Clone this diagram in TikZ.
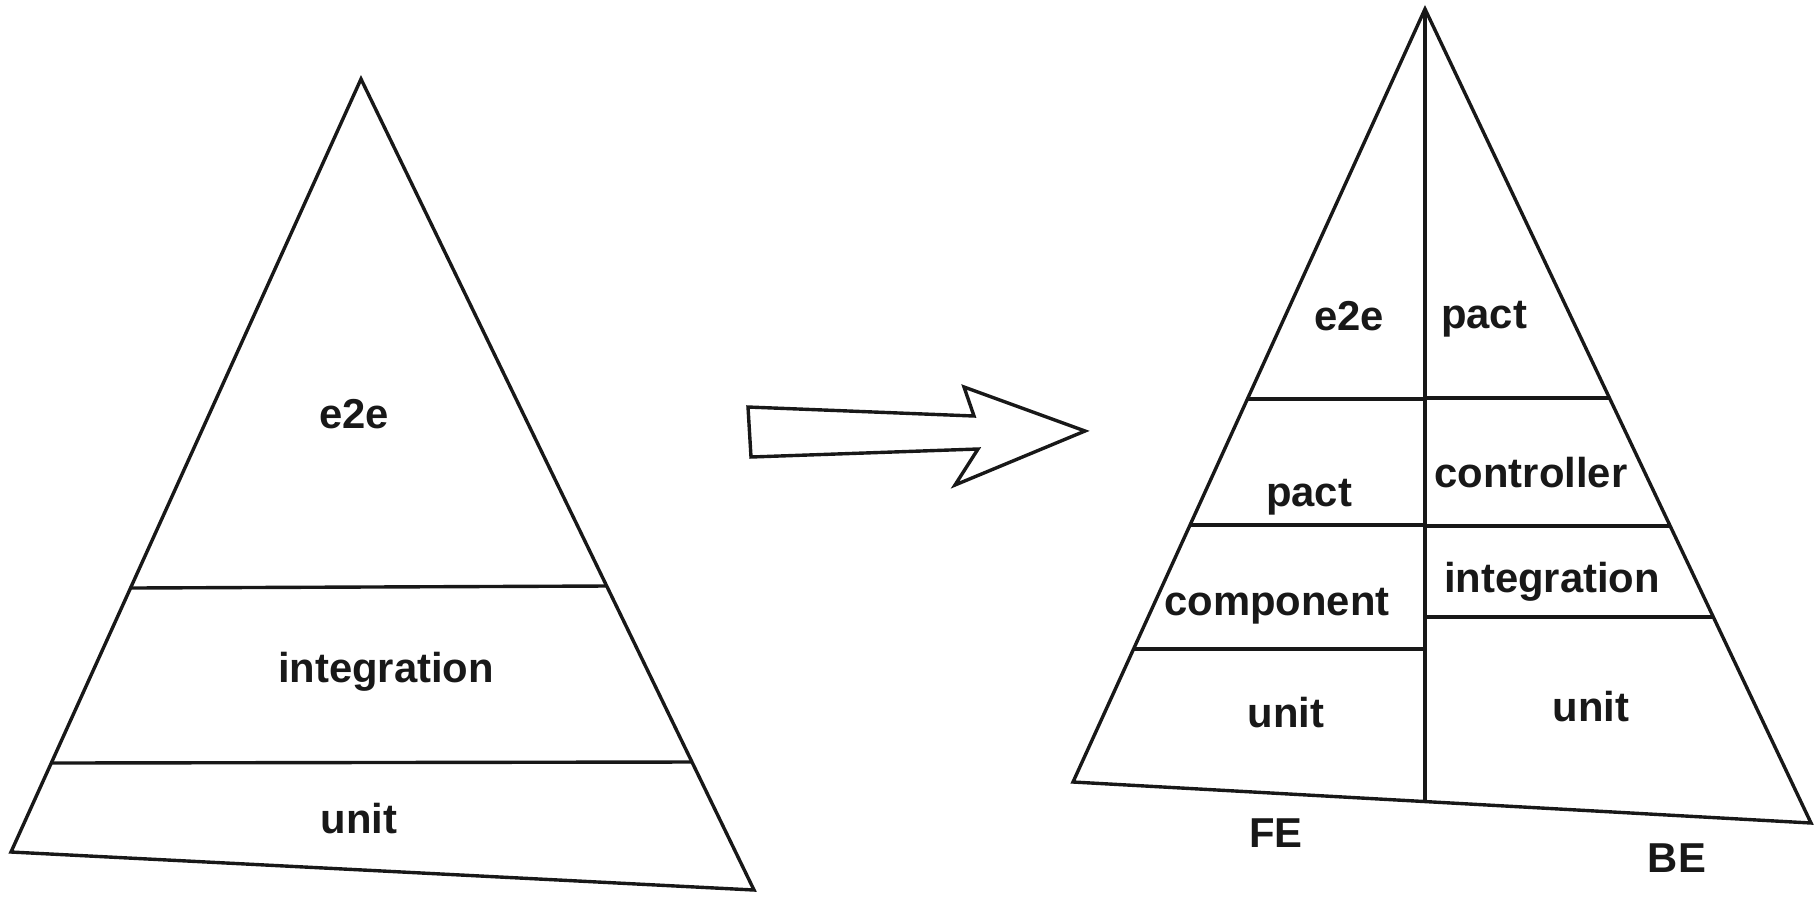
\documentclass[tikz,border=0pt]{standalone}
\usepackage{fontspec}
\setmainfont{Liberation Sans}
\definecolor{ink}{RGB}{24,24,24}
\tikzset{
  edge/.style={draw=ink, line width=1.7pt, line join=miter},
  spine/.style={draw=ink, line width=2.4pt},
  lbl/.style={anchor=base, inner sep=0pt, text=ink,
              font=\fontsize{20.9}{24}\selectfont\bfseries},
}
\begin{document}
\begin{tikzpicture}[x=0.5pt, y=-0.5pt]
\useasboundingbox (0,0) rectangle (1814,896);

% ---------- classic pyramid ----------
\coordinate (Ltop) at (361,79);
\coordinate (Lbl)  at (11,852);
\coordinate (Lbr)  at (754,890);
\draw[edge] (Ltop) -- (Lbr) -- (Lbl) -- cycle;
\coordinate (L1a) at (131,588); \coordinate (L1b) at (606,586);
\coordinate (L2a) at (51,763);  \coordinate (L2b) at (692,762);
\draw[edge] (L1a) -- (L1b);
\draw[edge] (L2a) -- (L2b);
\node[lbl] (le2e)  at (354,428) {e2e};
\node[lbl] (lint)  at (386,682) {integration};
\node[lbl] (lunit) at (359,833) {unit};

% ---------- block arrow ----------
\draw[edge] (748,407) -- (974,416) -- (964,387) -- (1085,431)
            -- (955,485) -- (978,449) -- (751,457) -- cycle;

% ---------- split pyramid ----------
\coordinate (Rtop) at (1425,9);
\coordinate (Rbl)  at (1073,782);
\coordinate (Rbr)  at (1811,823);
\coordinate (Rmid) at (1425,802);
\draw[edge] (Rtop) -- (Rbr) -- (Rbl) -- cycle;
\draw[spine] (Rtop) -- (Rmid);

% front-end dividers
\draw[edge] (1247,399) -- (1425,399);
\draw[edge] (1190,525) -- (1425,525);
\draw[edge] (1134,649) -- (1425,649);
% back-end dividers
\draw[edge] (1425,398) -- (1610,398);
\draw[edge] (1425,526) -- (1670,526);
\draw[edge] (1425,617) -- (1713,617);

% front-end layers
\node[lbl] (fe2e)  at (1349,330) {e2e};
\node[lbl] (fpact) at (1309,506) {pact};
\node[lbl] (fcomp) at (1277,615) {component};
\node[lbl] (funit) at (1286,727) {unit};
\node[lbl] (fe)    at (1276,847) {FE};
% back-end layers
\node[lbl] (bpact) at (1484,328) {pact};
\node[lbl] (bctl)  at (1531,487) {controller};
\node[lbl] (bint)  at (1552,592) {integration};
\node[lbl] (bunit) at (1591,721) {unit};
\node[lbl] (be)    at (1677,872) {BE};
\end{tikzpicture}
\end{document}
